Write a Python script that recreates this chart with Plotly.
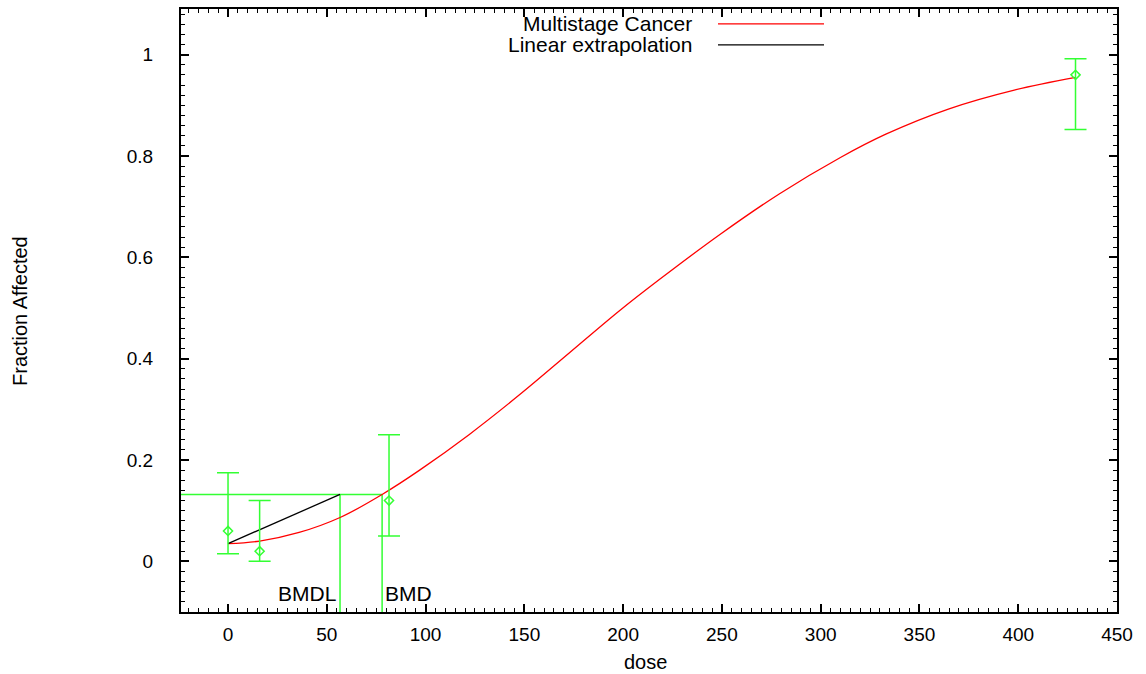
import plotly.graph_objects as go

# ---- data ----
dose = [0, 16, 81.5, 429]
frac_affected = [0.06, 0.02, 0.12, 0.96]
ci_lower = [0.015, 0.0, 0.05, 0.852]
ci_upper = [0.175, 0.12, 0.25, 0.992]

curve_dose = [0, 16, 36, 57, 78, 97, 122, 148, 173, 198, 219, 249, 279, 310, 333, 365, 398, 429]
curve_frac = [0.035, 0.040, 0.057, 0.087, 0.132, 0.180, 0.250, 0.330, 0.412, 0.494, 0.558,
              0.645, 0.725, 0.797, 0.843, 0.893, 0.930, 0.955]

background = 0.035
bmr_level = 0.132
bmd = 78
bmdl = 56.7

x_range = [-23.8, 450]
y_range = [-0.1, 1.09]

x_ticks = [0, 50, 100, 150, 200, 250, 300, 350, 400, 450]
y_ticks = [0, 0.2, 0.4, 0.6, 0.8, 1]
y_tick_text = ["0", "0.2", "0.4", "0.6", "0.8", "1"]

legend_names = ["Multistage Cancer", "Linear extrapolation"]

RED = "#ff0000"
BLACK = "#000000"
GREEN = "#33ff33"
FONT = "Liberation Sans, Arial, Helvetica, sans-serif"

fig = go.Figure()

# BMR horizontal line and BMD/BMDL verticals
fig.add_trace(go.Scatter(x=[x_range[0], bmd], y=[bmr_level, bmr_level], mode="lines",
                         line=dict(color=GREEN, width=1.5), showlegend=False, hoverinfo="skip"))
fig.add_trace(go.Scatter(x=[bmdl, bmdl], y=[bmr_level, y_range[0]], mode="lines",
                         line=dict(color=GREEN, width=1.5), showlegend=False, hoverinfo="skip"))
fig.add_trace(go.Scatter(x=[bmd, bmd], y=[bmr_level, y_range[0]], mode="lines",
                         line=dict(color=GREEN, width=1.5), showlegend=False, hoverinfo="skip"))

# model curve
fig.add_trace(go.Scatter(x=curve_dose, y=curve_frac, mode="lines",
                         line=dict(color=RED, width=1.3, shape="spline", smoothing=1.0),
                         name=legend_names[0], showlegend=False))

# linear extrapolation
fig.add_trace(go.Scatter(x=[0, bmdl], y=[background, bmr_level], mode="lines",
                         line=dict(color=BLACK, width=1.3), name=legend_names[1], showlegend=False))

# observed data with CIs
fig.add_trace(go.Scatter(
    x=dose, y=frac_affected, mode="markers",
    marker=dict(symbol="diamond-open", size=7, color=GREEN, line=dict(width=1.5, color=GREEN)),
    error_y=dict(type="data", symmetric=False,
                 array=[u - f for u, f in zip(ci_upper, frac_affected)],
                 arrayminus=[f - l for f, l in zip(frac_affected, ci_lower)],
                 color=GREEN, thickness=1.5, width=11),
    showlegend=False))

axis_common = dict(
    showgrid=False, zeroline=False, showline=True, linecolor="black", linewidth=2,
    mirror="allticks", ticks="inside", ticklen=8, tickwidth=1.5, tickcolor="black",
    tickfont=dict(family=FONT, size=19, color="black"),
)

fig.update_xaxes(range=x_range, tickvals=x_ticks, ticklabelstandoff=4,
                 minor=dict(dtick=5, ticks="inside", ticklen=4, tickwidth=1, tickcolor="black"),
                 **axis_common)
fig.update_yaxes(range=y_range, tickvals=y_ticks, ticktext=y_tick_text, ticklabelstandoff=22,
                 minor=dict(dtick=0.02, ticks="inside", ticklen=4, tickwidth=1, tickcolor="black"),
                 **axis_common)

L, R, T, B = 181, 29, 7, 62
W, H = 1146, 674
pw, ph = W - L - R, H - T - B


def px_x(p):
    return (p - L) / pw


def px_y(p):
    return (H - B - p) / ph


annotations = [
    dict(text="dose", x=px_x(645), y=px_y(662), xref="paper", yref="paper",
         showarrow=False, font=dict(family=FONT, size=20, color="black"),
         xanchor="center", yanchor="middle"),
    dict(text="Fraction Affected", x=px_x(20), y=px_y(310), xref="paper", yref="paper",
         showarrow=False, textangle=-90, font=dict(family=FONT, size=20, color="black"),
         xanchor="center", yanchor="middle"),
    dict(text="BMDL", x=bmdl, y=-0.063, xref="x", yref="y", showarrow=False, xshift=-2,
         font=dict(family=FONT, size=21, color="black"), xanchor="right", yanchor="middle"),
    dict(text="BMD", x=bmd, y=-0.063, xref="x", yref="y", showarrow=False, xshift=1,
         font=dict(family=FONT, size=21, color="black"), xanchor="left", yanchor="middle"),
]
for name, py in zip(legend_names, [22, 43]):
    annotations.append(dict(text=name, x=px_x(694), y=px_y(py), xref="paper", yref="paper",
                            showarrow=False, font=dict(family=FONT, size=21, color="black"),
                            xanchor="right", yanchor="middle"))

shapes = []
for color, py in zip([RED, BLACK], [22, 43]):
    shapes.append(dict(type="line", xref="paper", yref="paper",
                       x0=px_x(718), x1=px_x(824), y0=px_y(py), y1=px_y(py),
                       line=dict(color=color, width=1.3)))

fig.update_layout(
    width=W, height=H,
    margin=dict(l=L, r=R, t=T, b=B),
    paper_bgcolor="white", plot_bgcolor="white",
    showlegend=False,
    annotations=annotations, shapes=shapes,
    font=dict(family=FONT),
)

fig.write_html("out.html")
